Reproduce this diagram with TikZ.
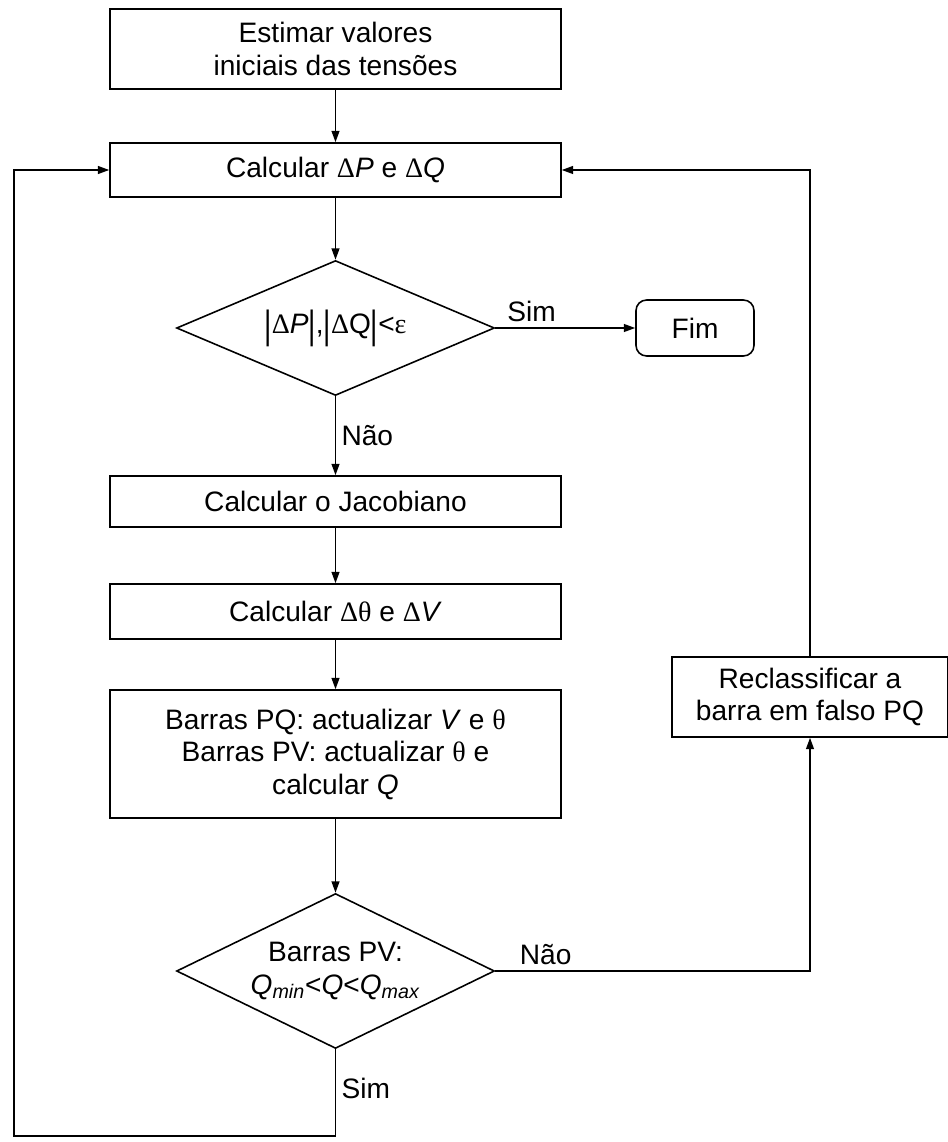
\documentclass[tikz,border=0pt]{standalone}
\usepackage{fontspec}
\usepackage{graphicx}
\setmainfont{Liberation Sans}
\newfontfamily\serf{Liberation Serif}
\usetikzlibrary{shapes.geometric,arrows.meta}
\newcommand\mythet{{\serf θ}}
\newcommand\myeps{{\serf ε}}
\newcommand\myDel{{\serf Δ}}
\newcommand\myvbar{\raisebox{-0.18em}{\scalebox{1}[1.4]{|}}}
\begin{document}
\begin{tikzpicture}[x=0.02cm,y=-0.02cm,
  every node/.style={font=\fontsize{16}{18.5}\selectfont},
  box/.style={draw,line width=0.9pt,align=center,inner sep=0pt,minimum width=9.02cm},
  dec/.style={draw,diamond,line width=0.9pt,align=center,inner sep=0pt},
  term/.style={draw,rounded corners=6pt,line width=0.9pt,align=center,inner sep=0pt,minimum width=2.36cm,minimum height=1.12cm},
  arr/.style={line width=0.9pt,-{Triangle[length=6.5pt,width=4.5pt]}},
  ln/.style={line width=0.9pt},
  lbl/.style={inner sep=3pt}
]
\fill[white] (0,0) rectangle (947,1142);
\useasboundingbox (0,0) rectangle (947,1142);

\node[box,minimum height=1.6cm] (b1) at (335.5,49) {Estimar valores\\iniciais das tensões};
\node[box,minimum height=1.08cm] (b2) at (335.5,170) {Calcular \myDel\textit{P} e \myDel\textit{Q}};
\node[dec,shape aspect=2.35,minimum width=6.36cm,minimum height=2.7cm] (d1) at (335.5,328) {\myvbar\myDel\textit{P}\myvbar,\myvbar\myDel Q\myvbar<\myeps};
\node[term] (fim) at (695,328) {Fim};
\node[box,minimum height=1.02cm] (b3) at (335.5,501.5) {Calcular o Jacobiano};
\node[box,minimum height=1.1cm] (b4) at (335.5,611.5) {Calcular \myDel\mythet{} e \myDel\textit{V}};
\node[box,minimum height=2.56cm] (b5) at (335.5,754) {Barras PQ: actualizar \textit{V} e \mythet\\Barras PV: actualizar \mythet{} e\\calcular \textit{Q}};
\node[dec,shape aspect=2.05,minimum width=6.36cm,minimum height=3.1cm] (d2) at (335.5,971) {Barras PV:\\\textit{Q}\textsubscript{\textit{min}}<\textit{Q}<\textit{Q}\textsubscript{\textit{max}}};
\node[box,minimum width=5.52cm,minimum height=1.6cm] (b6) at (810,697) {Reclassificar a\\barra em falso PQ};

\coordinate (c2) at (335.5,1136);
\coordinate (c3) at (14,1136);

\draw[arr] (b1) -- (b2);
\draw[arr] (b2) -- (d1);
\draw[arr] (d1.east) -- node[lbl,above,pos=0.26]{Sim} (fim.west);
\draw[arr] (d1.south) -- node[lbl,right,pos=0.5]{Não} (b3.north);
\draw[arr] (b3) -- (b4);
\draw[arr] (b4) -- (b5);
\draw[arr] (b5) -- (d2);
\draw[arr] (d2.east) -| node[lbl,above,pos=0.08]{Não} (b6.south);
\draw[arr] (b6.north) |- (b2.east);
\draw[ln] (d2.south) -- node[lbl,right,pos=0.45]{Sim} (c2);
\draw[arr] (c2) -- (c3) |- (b2.west);
\end{tikzpicture}
\end{document}
